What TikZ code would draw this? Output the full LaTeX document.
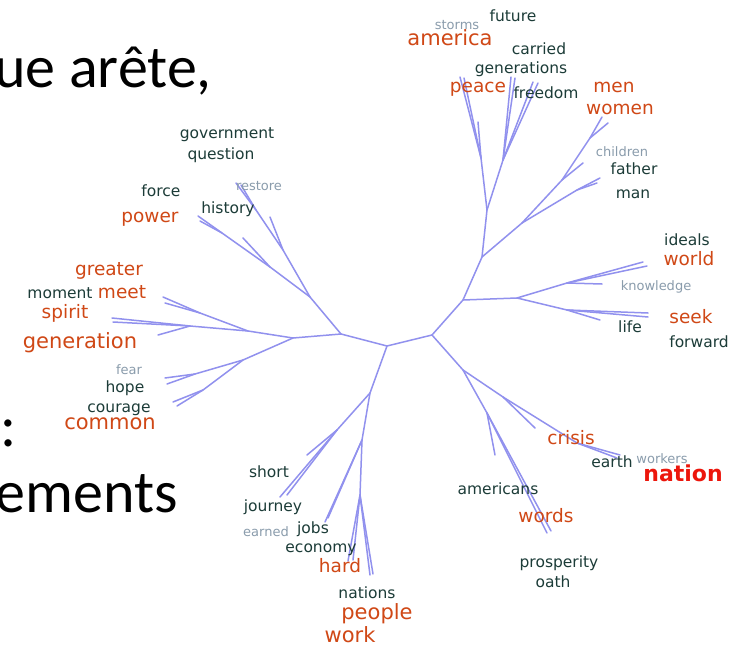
\documentclass[tikz,border=0pt]{standalone}
\usepackage{fontspec}
\setmainfont{DejaVu Sans}
\newfontfamily\slidefont{Carlito}
\usetikzlibrary{positioning}
\definecolor{Branch}{RGB}{145,145,238}
\definecolor{WordOrange}{RGB}{208,72,22}
\definecolor{WordDark}{RGB}{28,60,56}
\definecolor{WordGrey}{RGB}{138,156,172}
\definecolor{WordRed}{RGB}{236,22,12}

\begin{document}
\begin{tikzpicture}[
    x=1pt, y=-1pt,
    branch/.style={draw=Branch, line width=1.5pt, line cap=round, line join=round},
    word/.style={font=\fontsize{#1}{#1}\selectfont, text depth=0pt, inner sep=0pt},
    hot/.style={word=18.5, text height=10.1pt, text=WordOrange},
    hotbig/.style={word=21, text height=11.5pt, text=WordOrange},
    dark/.style={word=15.5, text height=8.5pt, text=WordDark},
    faint/.style={word=13, text height=7.1pt, text=WordGrey},
    slide/.style={font=\slidefont\fontsize{60}{72}\selectfont, inner sep=0pt}
]
\fill[white] (0,0) rectangle (738,647);
\useasboundingbox (0,0) rectangle (738,647);

% SLIDE TEXT BEHIND
\node[slide, anchor=base east] (edgeline) at (212,88) {ue arête,};
\node[slide, anchor=base west] (colon) at (0,446) {:};
\node[slide, anchor=base east] (elemline) at (178,512) {ements};

% TREE POINTS
\coordinate (root) at (387,346);
\coordinate (hubL) at (341,334);
\coordinate (hubR) at (432,335);

\coordinate (ulA) at (310,297);
\coordinate (ulB) at (283,250);
\coordinate (ulB1) at (256,210);
\coordinate (restoreA) at (236,183);
\coordinate (restoreB) at (241,185);
\coordinate (ulBshort) at (270,217);
\coordinate (ulC) at (270,267);
\coordinate (ulC1) at (222,233);
\coordinate (powerA) at (198,216);
\coordinate (powerB) at (200,221);
\coordinate (historyEnd) at (243,238);

\coordinate (lA) at (293,338);
\coordinate (lB) at (248,331);
\coordinate (lB1) at (200,313);
\coordinate (meetA) at (163,297);
\coordinate (meetB) at (165,303);
\coordinate (lB2) at (190,326);
\coordinate (spiritA) at (112,318);
\coordinate (spiritB) at (113,322);
\coordinate (genEnd) at (158,335);
\coordinate (lC) at (243,360);
\coordinate (lC1) at (195,374);
\coordinate (hopeA) at (165,378);
\coordinate (hopeB) at (167,384);
\coordinate (lC2) at (203,390);
\coordinate (courA) at (173,402);
\coordinate (courB) at (177,406);

\coordinate (bA) at (370,393);
\coordinate (bA1) at (337,430);
\coordinate (shortEnd) at (307,455);
\coordinate (journA) at (280,497);
\coordinate (journB) at (287,495);
\coordinate (bB) at (362,440);
\coordinate (jobsA) at (325,522);
\coordinate (jobsB) at (328,518);
\coordinate (bB1) at (360,495);
\coordinate (hardA) at (348,561);
\coordinate (hardB) at (353,560);
\coordinate (natA) at (370,575);
\coordinate (natB) at (373,574);

\coordinate (lrA) at (463,370);
\coordinate (lrB) at (487,413);
\coordinate (amerEnd) at (495,455);
\coordinate (wordsA) at (547,533);
\coordinate (wordsB) at (551,531);
\coordinate (lrC) at (503,397);
\coordinate (crisisEnd) at (535,428);
\coordinate (lrC1) at (577,443);
\coordinate (earthA) at (620,455);
\coordinate (earthB) at (617,458);

\coordinate (rA) at (463,300);
\coordinate (rB) at (517,298);
\coordinate (rB1) at (567,283);
\coordinate (worldA) at (643,262);
\coordinate (worldB) at (647,266);
\coordinate (knowEnd) at (602,284);
\coordinate (rB2) at (567,310);
\coordinate (seekA) at (648,313);
\coordinate (seekB) at (648,317);
\coordinate (lifeEnd) at (600,320);

\coordinate (urA) at (482,257);
\coordinate (urB) at (522,223);
\coordinate (urB1) at (562,180);
\coordinate (urB2) at (590,138);
\coordinate (womenA) at (602,117);
\coordinate (womenB) at (608,123);
\coordinate (childEnd) at (583,163);
\coordinate (urB3) at (577,190);
\coordinate (fatherA) at (600,178);
\coordinate (fatherB) at (597,183);

\coordinate (tA) at (487,210);
\coordinate (tA1) at (481,158);
\coordinate (peaceA) at (460,77);
\coordinate (peaceB) at (464,78);
\coordinate (peaceShort) at (478,122);
\coordinate (tB) at (503,160);
\coordinate (genA) at (511,77);
\coordinate (genB) at (515,78);
\coordinate (freeA) at (533,82);
\coordinate (freeB) at (538,83);

% BRANCHES
\draw[branch] (hubL) -- (root) -- (hubR);

\draw[branch] (hubL) -- (ulA) -- (ulB) -- (ulB1) -- (restoreA);
\draw[branch] (ulB1) -- (restoreB);
\draw[branch] (ulB) -- (ulBshort);
\draw[branch] (ulA) -- (ulC) -- (ulC1) -- (powerA);
\draw[branch] (ulC1) -- (powerB);
\draw[branch] (ulC) -- (historyEnd);

\draw[branch] (hubL) -- (lA) -- (lB) -- (lB1) -- (meetA);
\draw[branch] (lB1) -- (meetB);
\draw[branch] (lB) -- (lB2) -- (spiritA);
\draw[branch] (lB2) -- (spiritB);
\draw[branch] (lB2) -- (genEnd);
\draw[branch] (lA) -- (lC) -- (lC1) -- (hopeA);
\draw[branch] (lC1) -- (hopeB);
\draw[branch] (lC) -- (lC2) -- (courA);
\draw[branch] (lC2) -- (courB);

\draw[branch] (root) -- (bA) -- (bA1) -- (shortEnd);
\draw[branch] (bA1) -- (journA);
\draw[branch] (bA1) -- (journB);
\draw[branch] (bA) -- (bB) -- (jobsA);
\draw[branch] (bB) -- (jobsB);
\draw[branch] (bB) -- (bB1) -- (hardA);
\draw[branch] (bB1) -- (hardB);
\draw[branch] (bB1) -- (natA);
\draw[branch] (bB1) -- (natB);

\draw[branch] (hubR) -- (lrA) -- (lrB) -- (amerEnd);
\draw[branch] (lrB) -- (wordsA);
\draw[branch] (lrB) -- (wordsB);
\draw[branch] (lrA) -- (lrC) -- (crisisEnd);
\draw[branch] (lrC) -- (lrC1) -- (earthA);
\draw[branch] (lrC1) -- (earthB);

\draw[branch] (hubR) -- (rA) -- (rB) -- (rB1) -- (worldA);
\draw[branch] (rB1) -- (worldB);
\draw[branch] (rB1) -- (knowEnd);
\draw[branch] (rB) -- (rB2) -- (seekA);
\draw[branch] (rB2) -- (seekB);
\draw[branch] (rB2) -- (lifeEnd);

\draw[branch] (rA) -- (urA) -- (urB) -- (urB1) -- (urB2) -- (womenA);
\draw[branch] (urB2) -- (womenB);
\draw[branch] (urB1) -- (childEnd);
\draw[branch] (urB) -- (urB3) -- (fatherA);
\draw[branch] (urB3) -- (fatherB);

\draw[branch] (urA) -- (tA) -- (tA1) -- (peaceA);
\draw[branch] (tA1) -- (peaceB);
\draw[branch] (tA1) -- (peaceShort);
\draw[branch] (tA) -- (tB) -- (genA);
\draw[branch] (tB) -- (genB);
\draw[branch] (tB) -- (freeA);
\draw[branch] (tB) -- (freeB);

% TOP WORDS
\node[faint] (storms) at (457,26) {storms};
\node[dark] (future) at (513,17) {future};
\node[hotbig] (america) at (450,40) {america};
\node[dark] (carried) at (539,50) {carried};
\node[dark] (generations) at (521,69) {generations};
\node[hot] (peace) at (478,87) {peace};
\node[dark] (freedom) at (546,94) {freedom};
\node[hot] (men) at (614,87) {men};
\node[hot] (women) at (620,109) {women};
\node[faint] (children) at (622,153) {children};
\node[dark] (father) at (634,170) {father};
\node[dark] (man) at (633,194) {man};

% RIGHT WORDS
\node[dark] (ideals) at (687,241) {ideals};
\node[hot] (world) at (689,260) {world};
\node[faint] (knowledge) at (656,287) {knowledge};
\node[hot] (seek) at (691,318) {seek};
\node[dark] (life) at (630,328) {life};
\node[dark] (forward) at (699,343) {forward};

% LOWER RIGHT WORDS
\node[hot] (crisis) at (571,439) {crisis};
\node[dark] (earth) at (612,463) {earth};
\node[faint] (workers) at (662,460) {workers};
\node[word=22, font=\bfseries\fontsize{22}{22}\selectfont, text height=12pt, text=WordRed] (nation) at (683,475) {nation};
\node[dark] (americans) at (498,490) {americans};
\node[hot] (words) at (546,517) {words};
\node[dark] (prosperity) at (559,563) {prosperity};
\node[dark] (oath) at (553,583) {oath};

% BOTTOM WORDS
\node[dark] (short) at (269,473) {short};
\node[dark] (journey) at (273,507) {journey};
\node[faint] (earned) at (266,533) {earned};
\node[dark] (jobs) at (313,529) {jobs};
\node[dark] (economy) at (321,548) {economy};
\node[hot] (hard) at (340,567) {hard};
\node[dark] (nations) at (367,594) {nations};
\node[hotbig] (people) at (377,614) {people};
\node[hotbig] (work) at (350,637) {work};

% LEFT WORDS
\node[dark] (government) at (227,134) {government};
\node[dark] (question) at (221,155) {question};
\node[dark] (force) at (161,192) {force};
\node[hot] (power) at (150,217) {power};
\node[dark] (history) at (228,209) {history};
\node[faint] (restore) at (259,187) {restore};
\node[hot] (greater) at (109,270) {greater};
\node[dark] (moment) at (60,294) {moment};
\node[hot] (meet) at (122,293) {meet};
\node[hot] (spirit) at (65,313) {spirit};
\node[hotbig] (generation) at (80,343) {generation};
\node[faint] (fear) at (129,371) {fear};
\node[dark] (hope) at (125,388) {hope};
\node[dark] (courage) at (119,408) {courage};
\node[hotbig] (common) at (110,424) {common};

\end{tikzpicture}
\end{document}
